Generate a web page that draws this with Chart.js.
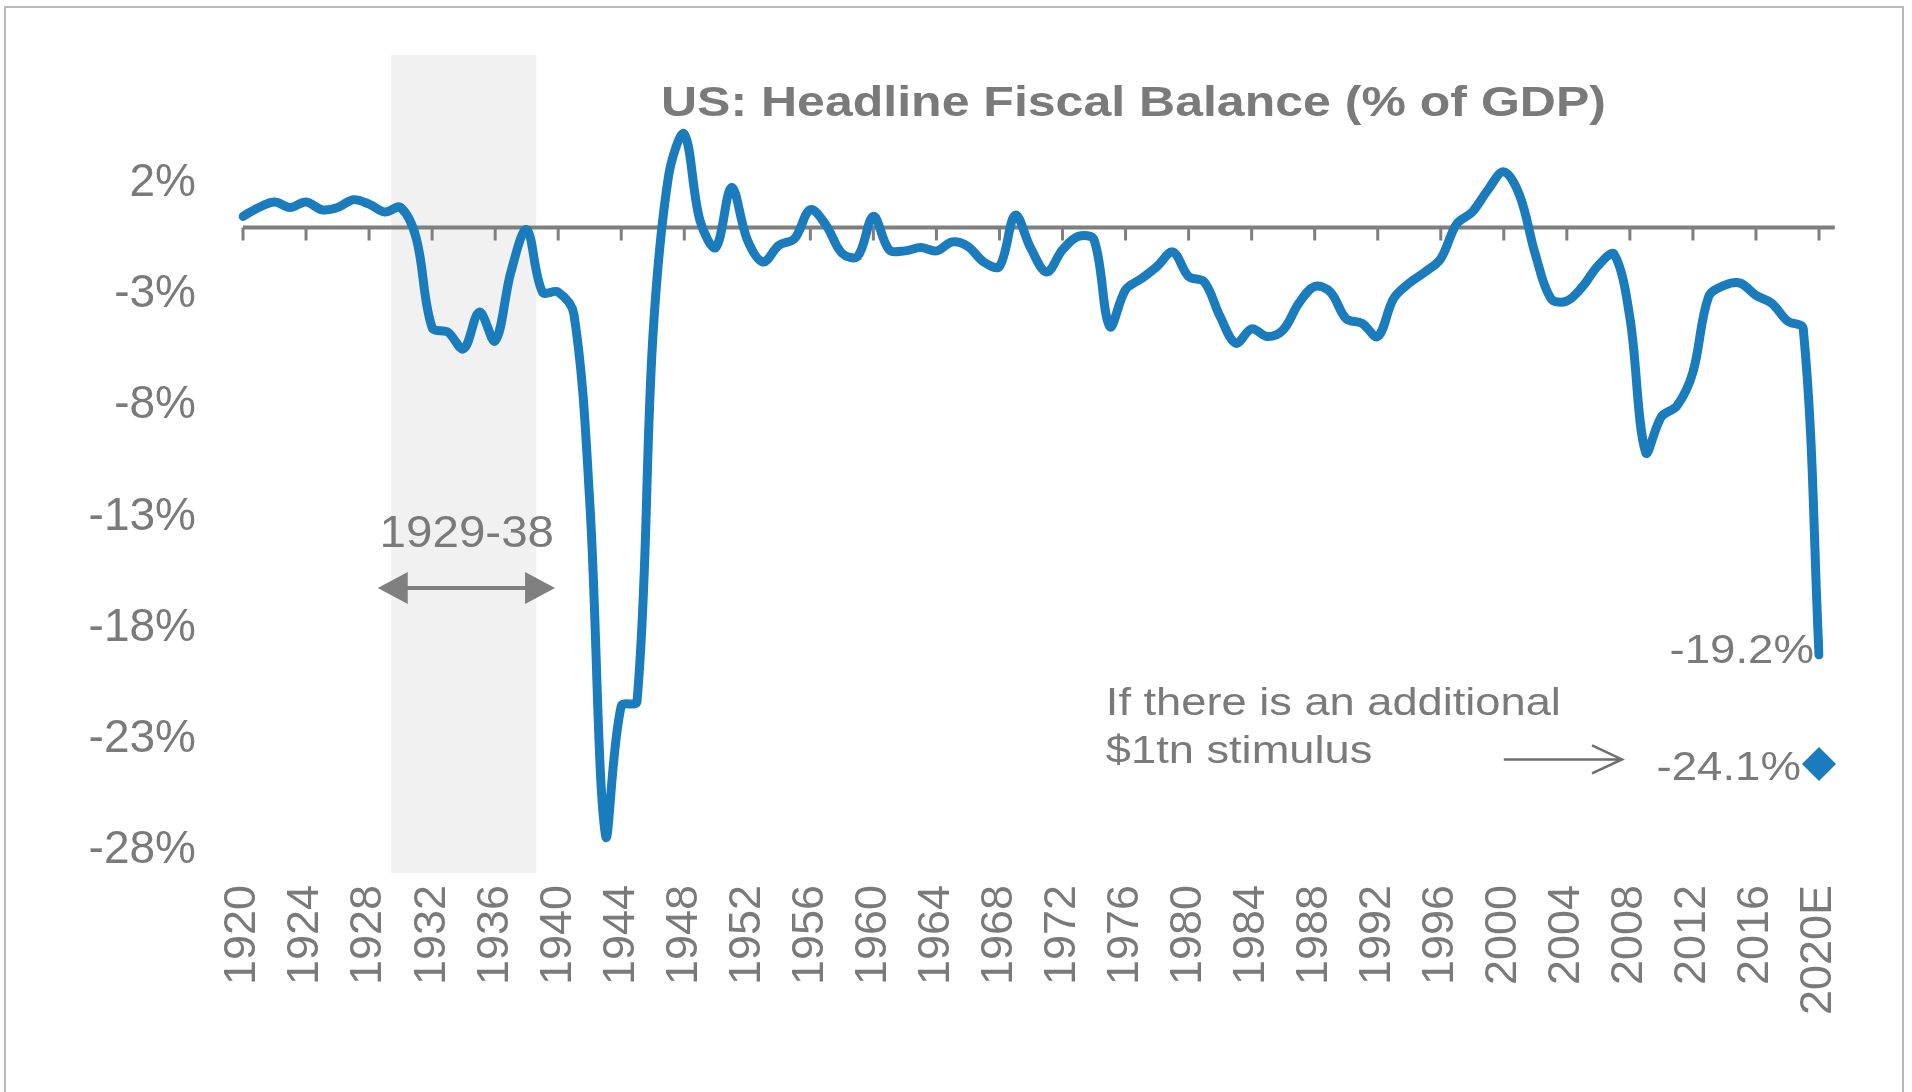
<!DOCTYPE html>
<html lang="en">
<head>
<meta charset="UTF-8">
<title>US: Headline Fiscal Balance (% of GDP)</title>
<style>
  body { margin: 0; background: #fff; overflow: hidden; }
  .frame {
    position: absolute; left: 4px; top: 6px;
    width: 1896px; height: 1100px;
    border: 2px solid #b8b8b8; border-bottom: none;
  }
  canvas { position: absolute; left: 0; top: 0; }
</style>
<script src="https://cdn.jsdelivr.net/npm/chart.js@4.4.0/dist/chart.umd.min.js"></script>
</head>
<body>
<div class="frame"></div>
<canvas id="fiscal" width="1912" height="1092"></canvas>
<script>
// years on the x axis (last one is an estimate)
const years = [
  '1920','1921','1922','1923','1924','1925','1926','1927','1928','1929',
  '1930','1931','1932','1933','1934','1935','1936','1937','1938','1939',
  '1940','1941','1942','1943','1944','1945','1946','1947','1948','1949',
  '1950','1951','1952','1953','1954','1955','1956','1957','1958','1959',
  '1960','1961','1962','1963','1964','1965','1966','1967','1968','1969',
  '1970','1971','1972','1973','1974','1975','1976','1977','1978','1979',
  '1980','1981','1982','1983','1984','1985','1986','1987','1988','1989',
  '1990','1991','1992','1993','1994','1995','1996','1997','1998','1999',
  '2000','2001','2002','2003','2004','2005','2006','2007','2008','2009',
  '2010','2011','2012','2013','2014','2015','2016','2017','2018','2019',
  '2020E'
];

// headline fiscal balance, % of GDP
const balance = [
   0.5,  0.9,  1.15, 0.9,  1.15, 0.8,  0.9,  1.25, 1.05, 0.7,
   0.9, -0.5, -4.5, -4.7, -5.45,-3.8, -5.1, -2.0, -0.1, -2.9,
  -2.9, -3.9,-12.3,-27.3,-21.5,-21.3, -5.0,  2.3,  4.2,  0.3,
  -0.9,  1.8, -0.55,-1.55,-0.8, -0.5,  0.8,  0.1, -1.15,-1.3,
   0.5, -1.0, -1.05,-0.9, -1.05,-0.65,-0.85,-1.55,-1.75, 0.55,
  -0.95,-2.0, -1.0, -0.4, -0.55,-4.45,-2.8, -2.3, -1.75,-1.1,
  -2.2, -2.45,-4.0, -5.2, -4.55,-4.9, -4.6, -3.4, -2.65,-2.9,
  -4.1, -4.3, -4.9, -3.2, -2.5, -2.0, -1.4,  0.15, 0.7,  1.7,
   2.5,  1.45,-1.2, -3.2, -3.3, -2.65,-1.7, -1.2, -4.05,-10.1,
  -8.5, -8.0, -6.5, -3.1, -2.6, -2.5, -3.05,-3.4, -4.2, -4.55,
  -19.2
];

// scenario with an additional $1tn stimulus
const stimulusYear = '2020E';
const stimulusValue = -24.1;

const yTicks = [2, -3, -8, -13, -18, -23, -28];
const labelEvery = 4;

const blue = '#1a7bbd';
const grey = '#7a7a7a';
const family = '"Liberation Sans", Arial, sans-serif';

function yearPx(chart, yr) {
  return chart.scales.x.getPixelForValue(yr - 1920);
}

function stretchText(ctx, s, x, y, font, align, sx) {
  ctx.save();
  ctx.font = font;
  ctx.textAlign = align;
  ctx.textBaseline = 'middle';
  ctx.translate(x, y);
  ctx.scale(sx, 1);
  ctx.fillText(s, 0, 0);
  ctx.restore();
}

// shaded 1929-38 band and the zero line with its ticks
const backdrop = {
  id: 'backdrop',
  beforeDatasetsDraw(chart) {
    const ctx = chart.ctx, area = chart.chartArea;
    const x = chart.scales.x, y = chart.scales.y;
    ctx.save();
    const b0 = yearPx(chart, 1929.4), b1 = yearPx(chart, 1938.6);
    ctx.fillStyle = '#f1f1f1';
    ctx.fillRect(b0, area.top, b1 - b0, area.bottom - area.top);

    const y0 = y.getPixelForValue(0);
    const step = x.getPixelForValue(1) - x.getPixelForValue(0);
    const xs = x.getPixelForValue(0), xe = x.getPixelForValue(years.length - 1) + step;
    ctx.strokeStyle = '#7f7f7f';
    ctx.lineWidth = 4;
    ctx.beginPath();
    ctx.moveTo(xs, y0);
    ctx.lineTo(xe, y0);
    ctx.stroke();
    ctx.lineWidth = 3;
    for (let i = 0; i < years.length; i += labelEvery) {
      const px = x.getPixelForValue(i);
      ctx.beginPath();
      ctx.moveTo(px, y0);
      ctx.lineTo(px, y0 + 13);
      ctx.stroke();
    }
    ctx.restore();
  }
};

// title and text notes
const notes = {
  id: 'notes',
  afterDatasetsDraw(chart) {
    const ctx = chart.ctx;
    const x = chart.scales.x, y = chart.scales.y;
    ctx.save();
    ctx.fillStyle = grey;

    // title
    const title = 'US: Headline Fiscal Balance (% of GDP)';
    ctx.font = 'bold 42px ' + family;
    const sx = 945 / ctx.measureText(title).width;
    stretchText(ctx, title, yearPx(chart, 1976.5), y.getPixelForValue(5.55),
      'bold 42px ' + family, 'center', sx);

    // 1929-38 label and double arrow
    stretchText(ctx, '1929-38', yearPx(chart, 1934.2), y.getPixelForValue(-13.8),
      '44px ' + family, 'center', 1.08);
    const ay = y.getPixelForValue(-16.2);
    const a0 = yearPx(chart, 1928.55), a1 = yearPx(chart, 1939.8);
    ctx.strokeStyle = '#808080';
    ctx.fillStyle = '#808080';
    ctx.lineWidth = 4;
    ctx.beginPath();
    ctx.moveTo(a0 + 20, ay);
    ctx.lineTo(a1 - 20, ay);
    ctx.stroke();
    ctx.beginPath();
    ctx.moveTo(a0, ay); ctx.lineTo(a0 + 30, ay - 16); ctx.lineTo(a0 + 30, ay + 16);
    ctx.closePath(); ctx.fill();
    ctx.beginPath();
    ctx.moveTo(a1, ay); ctx.lineTo(a1 - 30, ay - 16); ctx.lineTo(a1 - 30, ay + 16);
    ctx.closePath(); ctx.fill();

    // end-point labels
    ctx.fillStyle = grey;
    const last = years.length - 1;
    const lx = x.getPixelForValue(last);
    stretchText(ctx, balance[last].toFixed(1) + '%', lx - 5, y.getPixelForValue(balance[last]) - 3,
      '40px ' + family, 'right', 1.14);
    stretchText(ctx, stimulusValue.toFixed(1) + '%', lx - 18, y.getPixelForValue(stimulusValue) + 5,
      '40px ' + family, 'right', 1.14);

    // stimulus note with arrow
    const nx = yearPx(chart, 1974.75);
    stretchText(ctx, 'If there is an additional', nx, y.getPixelForValue(-21.45),
      '38px ' + family, 'left', 1.19);
    stretchText(ctx, '$1tn stimulus', nx, y.getPixelForValue(-23.6),
      '38px ' + family, 'left', 1.19);
    const ry = y.getPixelForValue(-23.9);
    const r0 = yearPx(chart, 2000.0), r1 = yearPx(chart, 2007.5);
    ctx.strokeStyle = '#6e6e6e';
    ctx.lineWidth = 2.5;
    ctx.beginPath();
    ctx.moveTo(r0, ry); ctx.lineTo(r1, ry);
    ctx.moveTo(r1 - 30, ry - 14); ctx.lineTo(r1, ry); ctx.lineTo(r1 - 30, ry + 14);
    ctx.stroke();
    ctx.restore();
  }
};

new Chart(document.getElementById('fiscal'), {
  type: 'line',
  data: {
    labels: years,
    datasets: [{
      label: 'Fiscal balance',
      data: balance,
      borderColor: blue,
      borderWidth: 9,
      pointRadius: 0,
      tension: 0.35,
      borderCapStyle: 'round',
      borderJoinStyle: 'round',
      fill: false
    }, {
      label: 'With $1tn stimulus',
      data: [{ x: stimulusYear, y: stimulusValue }],
      showLine: false,
      pointStyle: 'rectRot',
      pointRadius: 17,
      backgroundColor: blue,
      borderColor: blue,
      borderWidth: 0
    }]
  },
  options: {
    responsive: false,
    devicePixelRatio: 1,
    animation: false,
    layout: { padding: { left: 0, top: 55, right: 93, bottom: 0 } },
    plugins: {
      legend: { display: false },
      tooltip: { enabled: false },
      title: { display: false }
    },
    scales: {
      x: {
        type: 'category',
        offset: false,
        grid: { display: false, drawTicks: false },
        border: { display: false },
        afterBuildTicks: s => { s.ticks = s.ticks.filter((t, i) => i % labelEvery === 0); },
        afterFit: s => { s.height = 219; s.paddingLeft = 0; s.paddingRight = 0; },
        ticks: {
          autoSkip: false,
          minRotation: 90,
          maxRotation: 90,
          padding: 12,
          color: grey,
          font: { family: family, size: 45 }
        }
      },
      y: {
        min: -29,
        max: 7.75,
        grid: { display: false, drawTicks: false },
        border: { display: false },
        afterBuildTicks: s => { s.ticks = yTicks.map(v => ({ value: v })); },
        afterFit: s => { s.width = 243; s.paddingTop = 0; s.paddingBottom = 0; },
        ticks: {
          padding: 47,
          color: grey,
          font: { family: family, size: 46 },
          callback: v => v + '%'
        }
      }
    }
  },
  plugins: [backdrop, notes]
});
</script>
</body>
</html>
